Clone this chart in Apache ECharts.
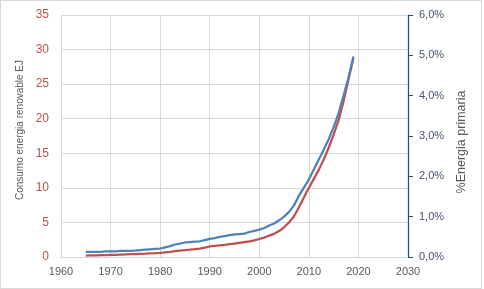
<!DOCTYPE html>
<html><head><meta charset="utf-8">
<script src="https://cdn.jsdelivr.net/npm/echarts@6/dist/echarts.min.js"></script>
<style>
html,body{margin:0;padding:0;background:#fff;}
#frame{position:absolute;left:0;top:0;width:480px;height:287px;border:1px solid #d9d9d9;}
#c{position:absolute;left:0;top:0;width:484px;height:289px;}
</style></head>
<body><div id="frame"></div><div id="c"></div>
<script>
const years = [1965,1966,1967,1968,1969,1970,1971,1972,1973,1974,1975,1976,1977,1978,1979,1980,1981,1982,1983,1984,1985,1986,1987,1988,1989,1990,1991,1992,1993,1994,1995,1996,1997,1998,1999,2000,2001,2002,2003,2004,2005,2006,2007,2008,2009,2010,2011,2012,2013,2014,2015,2016,2017,2018,2019];
const renewableEJ = [0.2,0.22,0.24,0.26,0.28,0.3,0.32,0.35,0.37,0.4,0.42,0.45,0.48,0.52,0.55,0.6,0.67,0.75,0.85,0.93,1.0,1.06,1.13,1.22,1.35,1.52,1.6,1.68,1.75,1.85,1.95,2.05,2.15,2.25,2.4,2.6,2.8,3.1,3.35,3.75,4.3,5.0,5.9,7.2,8.6,10.0,11.3,12.6,14.1,15.8,17.7,19.8,22.5,25.7,28.8];
const sharePct = [0.13,0.13,0.13,0.13,0.14,0.14,0.14,0.15,0.15,0.15,0.16,0.17,0.18,0.19,0.2,0.21,0.24,0.27,0.31,0.33,0.36,0.37,0.38,0.39,0.42,0.45,0.47,0.5,0.52,0.54,0.56,0.57,0.58,0.62,0.65,0.68,0.72,0.78,0.83,0.91,1.0,1.12,1.28,1.52,1.72,1.92,2.17,2.42,2.66,2.92,3.22,3.57,4.0,4.45,4.97];
const xTicks = {min:1960, max:2030, interval:10};
const leftTicks = {min:0, max:35, interval:5};
const rightTicks = {min:0, max:6, interval:1};

const chart = echarts.init(document.getElementById('c'), null, {renderer:'canvas'});
const font = '"Liberation Sans", sans-serif';
chart.setOption({
  animation:false,
  grid:{left:61, right:76, top:15, bottom:32},
  xAxis:{type:'value', min:xTicks.min, max:xTicks.max, interval:xTicks.interval,
    axisLine:{show:true, lineStyle:{color:'#d9d9d9'}}, axisTick:{show:false},
    axisLabel:{color:'#595959', fontFamily:font, fontSize:11, margin:9, formatter:v=>String(v)},
    splitLine:{show:true, lineStyle:{color:'#d9d9d9', width:1}}},
  yAxis:[
    {type:'value', min:leftTicks.min, max:leftTicks.max, interval:leftTicks.interval,
      name:'Consumo energia renovable EJ', nameLocation:'middle', nameGap:28,
      nameTextStyle:{color:'#595959', fontFamily:font, fontSize:10, padding:[0,0,0,12]},
      axisLine:{show:false}, axisTick:{show:false},
      axisLabel:{color:'#C0504D', fontFamily:font, fontSize:12, margin:12},
      splitLine:{show:true, lineStyle:{color:'#d9d9d9', width:1}}},
    {type:'value', position:'right', min:rightTicks.min, max:rightTicks.max, interval:rightTicks.interval,
      name:'%Energia primaria', nameLocation:'middle', nameGap:44,
      nameTextStyle:{color:'#595959', fontFamily:font, fontSize:12.5, padding:[0,12,0,0]},
      axisLine:{show:true, lineStyle:{color:'#1F4E79', width:1.25}},
      axisTick:{show:true, length:5, lineStyle:{color:'#1F4E79'}},
      axisLabel:{color:'#44546A', fontFamily:font, fontSize:11, margin:11,
        formatter:v=>v.toFixed(1).replace('.',',')+'%'},
      splitLine:{show:false}}
  ],
  series:[
    {type:'line', yAxisIndex:0, data:years.map((y,i)=>[y,renewableEJ[i]]), showSymbol:false, smooth:false,
      lineStyle:{color:'#C0504D', width:2.25}, itemStyle:{color:'#C0504D'}},
    {type:'line', yAxisIndex:1, data:years.map((y,i)=>[y,sharePct[i]]), showSymbol:false, smooth:false,
      lineStyle:{color:'#4F81BD', width:2.25}, itemStyle:{color:'#4F81BD'}}
  ]
});
</script></body></html>
